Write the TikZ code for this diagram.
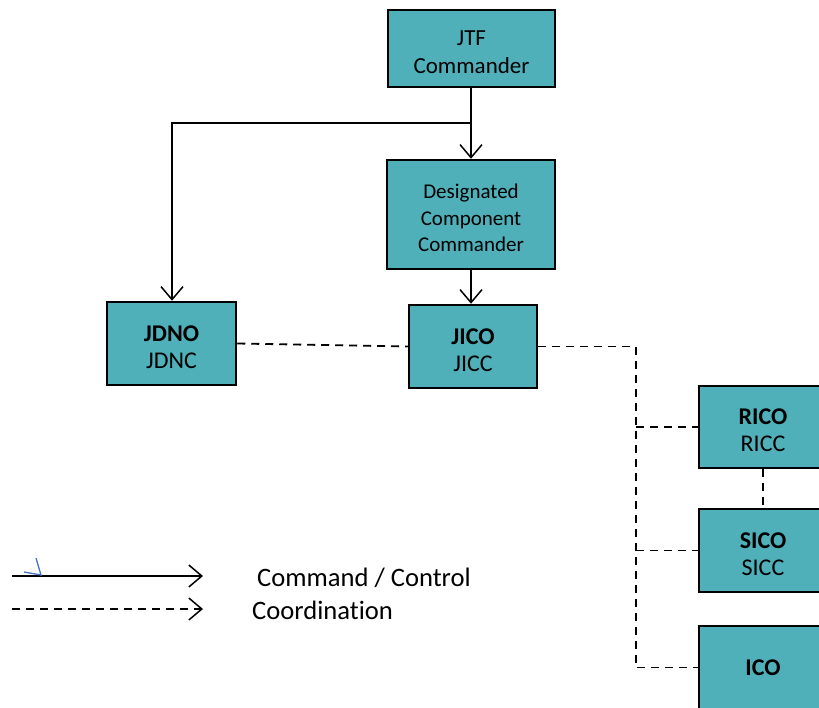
\documentclass[tikz,border=0pt]{standalone}
\usepackage{fontspec}
\setmainfont[Ligatures=CommonOff]{Carlito}
\usetikzlibrary{arrows.meta}
\definecolor{boxfill}{RGB}{79,176,186}
\definecolor{tickblue}{RGB}{68,114,196}
\tikzset{
  unitbox/.style={draw=black, line width=2.5pt, fill=boxfill, inner sep=0pt, anchor=center},
  boxtext/.style={align=center, inner sep=0pt, anchor=center, yshift=-3.5pt},
  cmdline/.style={draw=black, line width=1.5pt, -{Straight Barb[length=13pt,width=22pt,line width=1.5pt]}},
  coordline/.style={draw=black, line width=1.8pt, dash pattern=on 8pt off 6pt},
  coordarrow/.style={coordline, -{Straight Barb[length=13pt,width=22pt,line width=1.5pt]}},
}
\begin{document}
\begin{tikzpicture}[x=1pt,y=-1pt]
\useasboundingbox (0,0) rectangle (819,707);
\begin{scope}
\clip (0,0) rectangle (819,707);
\node[unitbox, minimum width=167pt, minimum height=77pt] (jtf) at (471.5,48.5) {};
\node[unitbox, minimum width=168pt, minimum height=109pt] (dcc) at (471,214.5) {};
\node[unitbox, minimum width=129pt, minimum height=83pt] (jdno) at (171.5,343.5) {};
\node[unitbox, minimum width=128pt, minimum height=83pt] (jico) at (473,346.5) {};
\node[unitbox, minimum width=128pt, minimum height=82pt] (rico) at (763,427) {};
\node[unitbox, minimum width=128pt, minimum height=83pt] (sico) at (763,550.5) {};
\node[unitbox, minimum width=128pt, minimum height=83pt] (ico) at (763,667.5) {};
\end{scope}
\node[boxtext, font=\fontsize{23}{28}\selectfont] (jtf-t) at (jtf.center) {JTF\\Commander};
\node[boxtext, font=\fontsize{21}{26.5}\selectfont] (dcc-t) at (dcc.center) {Designated\\Component\\Commander};
\node[boxtext, font=\fontsize{24}{27}\selectfont] (jdno-t) at (jdno.center) {\textbf{JDNO}\\JDNC};
\node[boxtext, font=\fontsize{24}{27}\selectfont] (jico-t) at (jico.center) {\textbf{JICO}\\JICC};
\node[boxtext, font=\fontsize{24}{27}\selectfont] (rico-t) at (rico.center) {\textbf{RICO}\\RICC};
\node[boxtext, font=\fontsize{24}{27}\selectfont] (sico-t) at (sico.center) {\textbf{SICO}\\SICC};
\node[boxtext, font=\fontsize{24}{27}\selectfont, yshift=3pt] (ico-t) at (ico.center) {\textbf{ICO}};

% command lines
\coordinate (split) at (471,123);
\draw[cmdline] (jtf.south -| split) -- (dcc.north -| split);
\draw[cmdline] (split) -- (172,123) -- (jdno.north -| 172,0);
\draw[cmdline] (dcc.south -| split) -- (jico.north -| split);

% coordination lines
\draw[coordline] (jdno.east) -- (jico.west);
\coordinate (bus) at (636,346.5);
\draw[coordline] (jico.east) -- (bus) -- (bus |- ico.west) -- (ico.west);
\draw[coordline] (bus |- rico.west) -- (rico.west);
\draw[coordline] (bus |- sico.west) -- (sico.west);
\draw[coordline] (rico.south) -- (sico.north);

% legend
\coordinate (l1a) at (12,576);
\coordinate (l1b) at (203,576);
\coordinate (l2a) at (12,609);
\coordinate (l2b) at (203,609);
\draw[cmdline] (l1a) -- (l1b);
\draw[coordarrow] (l2a) -- (l2b);
\draw[tickblue, line width=1.3pt] (36,558) -- (41,575) -- (24,572);
\node[anchor=west, inner sep=0pt, font=\fontsize{26.6}{30}\selectfont] (lcmd) at (257,578) {Command / Control};
\node[anchor=west, inner sep=0pt, font=\fontsize{26.6}{30}\selectfont] (lcoord) at (252,610) {Coordination};
\end{tikzpicture}
\end{document}
